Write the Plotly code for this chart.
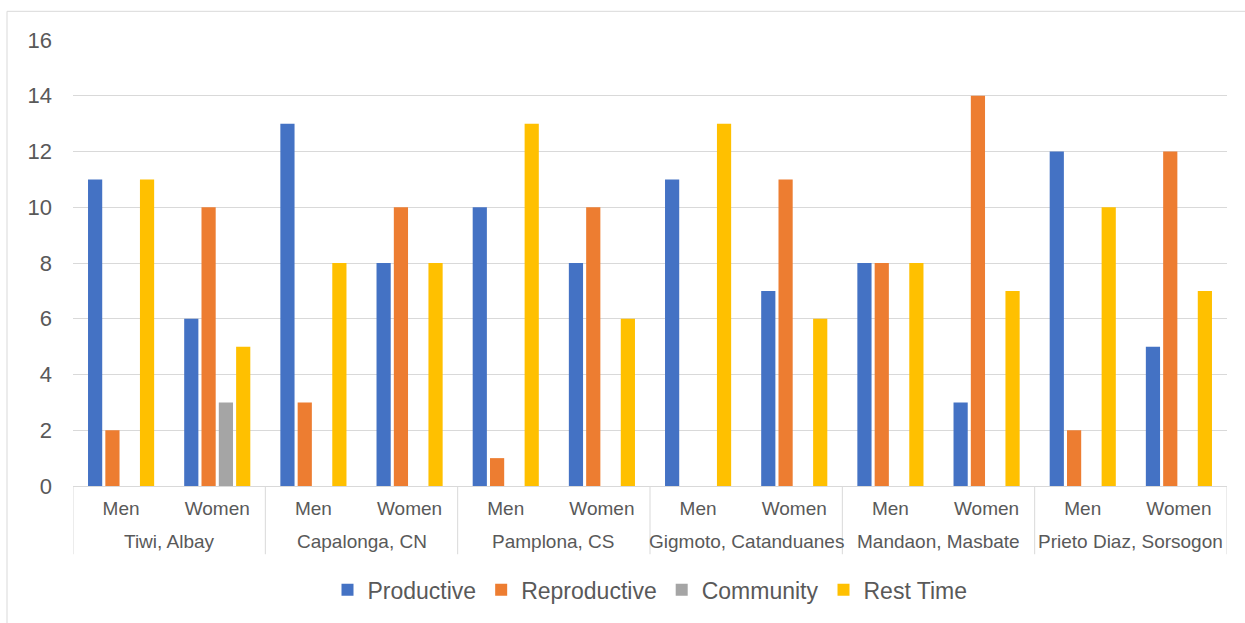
import plotly.graph_objects as go

# Daily activity hours by site and sex
sites = ["Tiwi, Albay", "Capalonga, CN", "Pamplona, CS",
         "Gigmoto, Catanduanes", "Mandaon, Masbate", "Prieto Diaz, Sorsogon"]
sexes = ["Men", "Women"]

productive   = [11, 6, 13, 8, 10, 8, 11, 7, 8, 3, 12, 5]
reproductive = [2, 10, 3, 10, 1, 10, 0, 11, 8, 14, 2, 12]
community    = [0, 3, 0, 0, 0, 0, 0, 0, 0, 0, 0, 0]
rest_time    = [11, 5, 8, 8, 13, 6, 13, 6, 8, 7, 10, 7]

# one slot per (site, sex) pair along a numeric category axis
n_sex = len(sexes)
positions = list(range(len(sites) * n_sex))
inner_labels = [sexes[i % n_sex] for i in positions]
site_centers = [i * n_sex + (n_sex - 1) / 2 for i in range(len(sites))]
boundaries = [i * n_sex - 0.5 for i in range(len(sites) + 1)]

series = [
    ("Productive", productive, "#4472C4"),
    ("Reproductive", reproductive, "#ED7D31"),
    ("Community", community, "#A5A5A5"),
    ("Rest Time", rest_time, "#FFC000"),
]

fig = go.Figure()
for name, vals, color in series:
    fig.add_trace(go.Bar(
        name=name, x=positions, y=vals,
        marker=dict(color=color, line=dict(width=0)),
    ))

label_color = "#595959"
grid_color = "#D9D9D9"

# plot area in pixels
W, H = 1245, 623
L, R, T, B = 73, 18, 40, 132
plot_h = H - T - B
plot_w = W - L - R


def py(pixel_y):
    """Convert a page pixel row to paper y."""
    return (H - B - pixel_y) / plot_h


def px(pixel_x):
    """Convert a page pixel column to paper x."""
    return (pixel_x - L) / plot_w


# group dividers under the category axis
shapes = [
    dict(type="line", xref="x", yref="paper", x0=b, x1=b,
         y0=0, y1=py(560), line=dict(color=grid_color, width=1))
    for b in boundaries
]
# chart frame
shapes.append(dict(
    type="rect", xref="paper", yref="paper",
    x0=px(7), x1=px(1260), y0=py(640), y1=py(11),
    line=dict(color=grid_color, width=1), fillcolor="rgba(0,0,0,0)",
    layer="below",
))

# site names as the outer level of the category axis
annotations = [
    dict(text=s, x=c, xref="x", y=py(547), yref="paper",
         xanchor="center", yanchor="middle", showarrow=False,
         font=dict(size=19, color=label_color))
    for s, c in zip(sites, site_centers)
]

fig.update_layout(
    width=W, height=H,
    margin=dict(l=L, r=R, t=T, b=B),
    paper_bgcolor="white", plot_bgcolor="white",
    barmode="group", bargap=0.28, bargroupgap=0.18,
    font=dict(family="Liberation Sans, Arial, sans-serif", color=label_color),
    xaxis=dict(
        range=[-0.5, positions[-1] + 0.5],
        tickmode="array", tickvals=positions, ticktext=inner_labels,
        showgrid=False, zeroline=False,
        showline=True, linecolor=grid_color, linewidth=1,
        ticks="", tickfont=dict(size=19, color=label_color),
        ticklabelstandoff=5,
    ),
    yaxis=dict(
        range=[0, 16], dtick=2,
        showgrid=True, gridcolor=grid_color, gridwidth=1,
        zeroline=False, showline=False, ticks="",
        tickfont=dict(size=22, color=label_color),
        ticklabelstandoff=20,
    ),
    legend=dict(
        orientation="h", x=0.5, xanchor="center",
        y=py(596), yanchor="middle",
        font=dict(size=23, color=label_color),
        itemwidth=30,
    ),
    shapes=shapes,
    annotations=annotations,
)

fig.write_html("out.html")
